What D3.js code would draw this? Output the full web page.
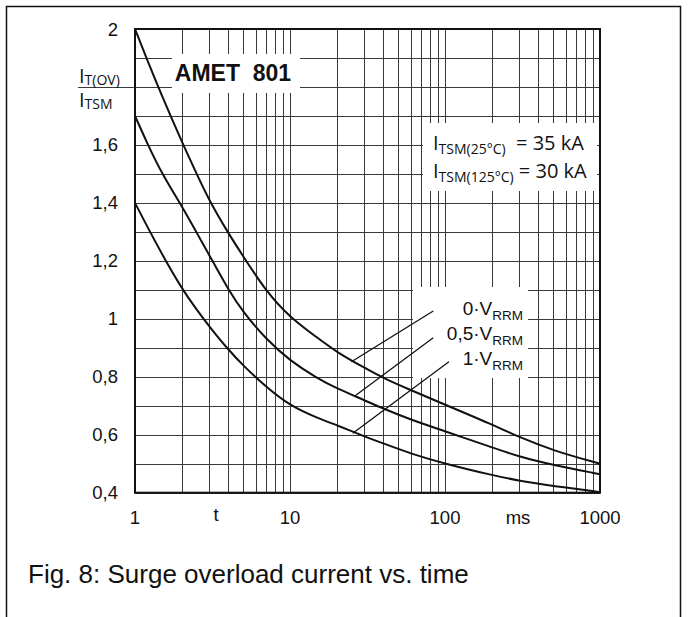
<!DOCTYPE html>
<html>
<head>
<meta charset="utf-8">
<script src="https://cdn.jsdelivr.net/npm/d3@7"></script>
<style>
  body { margin: 0; background: #fff; }
  svg { display: block; }
  .arial { font-family: "Liberation Sans", Arial, sans-serif; fill: #111; }
  .open { font-family: "Open Sans", sans-serif; fill: #111; }
</style>
</head>
<body>
<div id="chart"></div>
<script>
const times = [1, 1.2, 1.5, 2, 2.5, 3, 4, 5, 7, 10, 15, 20, 30, 40, 60, 100, 200, 300, 500, 1000];

// I_T(OV) / I_TSM for each reverse voltage
const curveV0 = [2.0, 1.892, 1.766, 1.612, 1.5, 1.41, 1.295, 1.215, 1.095, 1.005, 0.935, 0.885, 0.832, 0.795, 0.754, 0.704, 0.636, 0.592, 0.545, 0.5];
const curveV05 = [1.7, 1.605, 1.498, 1.39, 1.297, 1.222, 1.1, 1.022, 0.93, 0.855, 0.795, 0.76, 0.72, 0.69, 0.652, 0.612, 0.557, 0.524, 0.495, 0.464];
const curveV1 = [1.4, 1.318, 1.221, 1.105, 1.031, 0.975, 0.893, 0.838, 0.765, 0.7, 0.658, 0.633, 0.595, 0.57, 0.535, 0.5, 0.461, 0.441, 0.423, 0.402];

// Axis ticks
const yTicks = [2, 1.6, 1.4, 1.2, 1, 0.8, 0.6, 0.4];
const yTickLabels = ['2', '1,6', '1,4', '1,2', '1', '0,8', '0,6', '0,4'];
const xTicks = [1, 10, 100, 1000];
const xTickLabels = ['1', '10', '100', '1000'];

// Curve labels and their leader lines (start on curve -> end at label), in data units
const curveLabels = ['0·V', '0,5·V', '1·V'];
const leaderLines = [
    [[24.9, 0.852], [84, 1.027]],
    [[26.2, 0.734], [84, 0.935]],
    [[25.4, 0.605], [106, 0.852]]
];

const W = 688, H = 617;
const plot = {left: 135, right: 600, top: 29, bottom: 492.7};

const svg = d3.select('#chart')
    .append('svg')
    .attr('width', W)
    .attr('height', H);

// Outer frame of the figure (bottom edge runs off the page)
svg.append('rect')
    .attr('x', 6.5).attr('y', 6.5)
    .attr('width', 674).attr('height', 720)
    .attr('fill', 'none')
    .attr('stroke', '#111')
    .attr('stroke-width', 1.5);

const x = d3.scaleLog().domain([1, 1000]).range([plot.left, plot.right]);
const y = d3.scaleLinear().domain([0.4, 2]).range([plot.bottom, plot.top]);

// snap grid lines to whole pixels so they stay crisp
const snap = v => Math.round(v) + 0.5;

// Grid lines
const xGrid = [];
[1, 10, 100].forEach(dec => d3.range(1, 10).forEach(k => xGrid.push(k * dec)));
xGrid.push(1000);
const yGrid = d3.range(4, 21).map(i => i / 10);

const grid = svg.append('g')
    .attr('stroke', '#3a3a3a')
    .attr('stroke-width', 1);

grid.selectAll('.vgrid')
    .data(xGrid)
    .enter()
    .append('line')
    .attr('x1', d => snap(x(d))).attr('x2', d => snap(x(d)))
    .attr('y1', plot.top).attr('y2', plot.bottom);

grid.selectAll('.hgrid')
    .data(yGrid)
    .enter()
    .append('line')
    .attr('x1', plot.left).attr('x2', plot.right)
    .attr('y1', d => snap(y(d))).attr('y2', d => snap(y(d)));

// The 1,8 line doubles as the fraction bar of the y label
grid.append('line')
    .attr('x1', 78).attr('x2', plot.left)
    .attr('y1', snap(y(1.8))).attr('y2', snap(y(1.8)));

// White patches behind the text boxes
const boxes = [
    {x: 172, y: 54, w: 128, h: 39},
    {x: 423, y: 123, w: 174, h: 68},
    {x: 413, y: 287, w: 115, h: 91}
];
svg.selectAll('.box')
    .data(boxes)
    .enter()
    .append('rect')
    .attr('x', d => d.x).attr('y', d => d.y)
    .attr('width', d => d.w).attr('height', d => d.h)
    .attr('fill', '#fff');

// Curves
const line = d3.line()
    .x(d => x(d[0]))
    .y(d => y(d[1]))
    .curve(d3.curveBasis);

[curveV0, curveV05, curveV1].forEach(values => {
    svg.append('path')
        .datum(times.map((t, i) => [t, values[i]]))
        .attr('d', line)
        .attr('fill', 'none')
        .attr('stroke', '#111')
        .attr('stroke-width', 2);
});

// Leader lines
svg.selectAll('.leader')
    .data(leaderLines)
    .enter()
    .append('line')
    .attr('x1', d => x(d[0][0])).attr('y1', d => y(d[0][1]))
    .attr('x2', d => x(d[1][0])).attr('y2', d => y(d[1][1]))
    .attr('stroke', '#111')
    .attr('stroke-width', 1.3);

// Plot border
svg.append('rect')
    .attr('x', plot.left).attr('y', plot.top)
    .attr('width', plot.right - plot.left)
    .attr('height', plot.bottom - plot.top)
    .attr('fill', 'none')
    .attr('stroke', '#111')
    .attr('stroke-width', 2);

// Y tick labels
svg.selectAll('.ylab')
    .data(yTicks)
    .enter()
    .append('text')
    .attr('class', 'arial')
    .attr('x', 118)
    .attr('y', d => y(d) + 6.5)
    .attr('text-anchor', 'end')
    .style('font-size', '18.5px')
    .text((d, i) => yTickLabels[i]);

// X tick labels
svg.selectAll('.xlab')
    .data(xTicks)
    .enter()
    .append('text')
    .attr('class', 'arial')
    .attr('x', d => x(d))
    .attr('y', 524)
    .attr('text-anchor', 'middle')
    .style('font-size', '18.5px')
    .text((d, i) => xTickLabels[i]);

// Axis unit names sit between the tick labels
[['t', 3.33, 521], ['ms', 296, 524]].forEach(([txt, pos, base]) => {
    svg.append('text')
        .attr('class', 'arial')
        .attr('x', x(pos))
        .attr('y', base)
        .attr('text-anchor', 'middle')
        .style('font-size', '18.5px')
        .text(txt);
});

// Helper: main text with a subscript part
function subText(xPos, yPos, main, sub, cls, mainSize, subSize, shift, anchor, tail) {
    const t = svg.append('text')
        .attr('class', cls)
        .attr('x', xPos)
        .attr('y', yPos)
        .attr('text-anchor', anchor || 'start')
        .style('font-size', mainSize + 'px')
        .attr('xml:space', 'preserve');
    t.append('tspan').text(main);
    t.append('tspan').attr('dy', shift).style('font-size', subSize + 'px').text(sub);
    if (tail) {
        t.append('tspan').attr('dy', -shift).text(tail);
    }
    return t;
}

// Y axis label as a fraction
subText(79, 82.5, 'I', 'T(OV)', 'open', 20, 14, 2);
subText(79, 107, 'I', 'TSM', 'open', 20, 14, 2);

// Device name
svg.append('text')
    .attr('class', 'arial')
    .attr('x', 233)
    .attr('y', 81)
    .attr('text-anchor', 'middle')
    .attr('xml:space', 'preserve')
    .style('font-size', '23px')
    .style('font-weight', 'bold')
    .text('AMET  801');

// Surge current ratings
subText(433, 150, 'I', 'TSM(25°C)', 'open', 20, 14, 4, 'start', '  = 35 kA');
subText(433, 178, 'I', 'TSM(125°C)', 'open', 20, 14, 4, 'start', ' = 30 kA');

// Curve labels
curveLabels.forEach((lab, i) => {
    subText(523, 315 + i * 25, lab, 'RRM', 'arial', 19, 13.5, 5, 'end');
});

// Caption
svg.append('text')
    .attr('class', 'arial')
    .attr('x', 28)
    .attr('y', 583)
    .style('font-size', '26px')
    .text('Fig. 8: Surge overload current vs. time');
</script>
</body>
</html>
